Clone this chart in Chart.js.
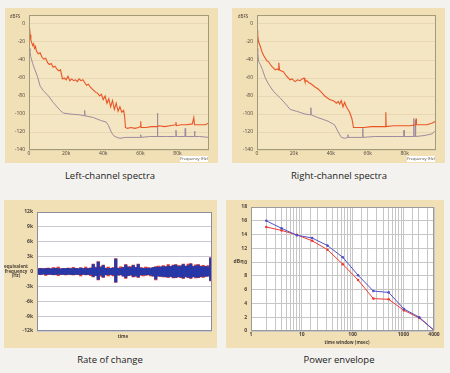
<!DOCTYPE html>
<html>
<head>
<meta charset="utf-8">
<script src="https://cdn.jsdelivr.net/npm/chart.js@4"></script>
<style>
  body {margin: 0; background: #f4f2ef; width: 450px; height: 373px; overflow: hidden; position: relative; font-family: 'Open Sans', sans-serif;}
  canvas {position: absolute;}
  .cap {position: absolute; width: 200px; text-align: center; font-size: 9.5px; color: #222;}
</style>
</head>
<body>
<canvas id="leftSpec" width="213" height="155" style="left:5px;top:8px"></canvas>
<canvas id="rightSpec" width="213" height="155" style="left:232px;top:8px"></canvas>
<canvas id="rate" width="213" height="148" style="left:4px;top:200px"></canvas>
<canvas id="envelope" width="218" height="148" style="left:226px;top:200px"></canvas>
<div class="cap" style="left:10px;top:169px">Left-channel spectra</div>
<div class="cap" style="left:239px;top:169px">Right-channel spectra</div>
<div class="cap" style="left:10px;top:353px">Rate of change</div>
<div class="cap" style="left:239px;top:353px">Power envelope</div>
<script>
// spectra, kHz / dBFS
const specTicksX = [0, 20, 40, 60, 80]
const specTicksY = [0, -20, -40, -60, -80, -100, -120, -140]

const leftHotKHz = [0, 0.3, 0.6, 1, 1.5, 2, 2.5, 3, 3.5, 4,
  5, 6, 7, 8, 9, 10, 11, 12, 13, 14,
  15, 16, 17, 17.5, 18, 19, 20, 21, 22, 23,
  24, 25, 26, 27, 28, 29, 30, 31, 32, 33,
  34, 35, 36, 37, 38, 39, 40, 41, 42, 43,
  44, 45, 46, 47, 48, 49, 50, 51, 51.5, 52,
  53, 55, 57, 59, 60, 60.2, 60.4, 63, 66, 69,
  70, 73, 76, 79, 79.2, 79.4, 82, 85, 88, 88.8,
  89.2, 92, 95, 97]
const leftHotDb = [-6, -4, -12, -18, -21, -24, -22, -27, -25, -30,
  -33, -32, -37, -39, -38, -43, -45, -44, -48, -47,
  -50, -52, -51, -56, -61, -60, -62, -58, -63, -61,
  -63, -62, -64, -61, -63, -62, -65, -68, -67, -70,
  -72, -74, -76, -77, -80, -78, -84, -80, -88, -83,
  -92, -85, -95, -88, -97, -92, -98, -96, -102, -115,
  -116, -115, -116, -115, -114, -108, -115, -115, -114, -114,
  -113, -114, -113, -112, -109, -113, -112, -112, -111, -104,
  -112, -112, -112, -110]
const leftGreyKHz = [0, 0.5, 0.9, 2, 3.2, 4.5, 6, 7.7, 10.5, 13,
  16.8, 18.5, 22, 27.5, 29.8, 30, 30.2, 34.8, 38.4, 41.6,
  42.9, 44.3, 45.6, 47.4, 49, 52, 56, 60, 60.2, 60.4,
  65, 69, 69.2, 69.4, 74, 79, 79.2, 79.4, 84, 84.2,
  84.4, 89, 89.2, 89.4, 92, 97]
const leftGreyDb = [-27, -30, -36, -44, -51, -58, -69, -74, -80, -87,
  -96, -99, -100, -101, -102, -96, -102, -104, -107, -109,
  -113, -120, -124, -126, -127, -126, -126, -126, -123, -126,
  -125, -125, -99, -125, -125, -125, -118, -125, -125, -116,
  -125, -125, -119, -125, -125, -126]

const rightHotKHz = [0, 0.4, 0.9, 1.8, 2.7, 3.6, 4.5, 5.4, 6.3, 7.2,
  8, 9, 9.9, 11, 11.6, 11.8, 12.2, 13, 14.3, 15,
  16, 17, 17.9, 19, 20.6, 22, 23.3, 24.5, 25.5, 26,
  27, 28, 29.6, 31.4, 33, 34, 35.5, 36.7, 38, 39.4,
  41, 42, 43, 44, 44.8, 45.7, 46.6, 47.5, 48.4, 49.3,
  50.2, 51.4, 52.3, 55, 58, 62, 66, 69.6, 69.8, 70,
  74, 79.7, 83, 86, 86.2, 86.4, 90, 92, 95, 96.8]
const rightHotDb = [-7, -13, -20, -25, -31, -35, -38, -41, -42, -45,
  -47, -49, -51, -50, -51, -43, -51, -52, -53, -55,
  -58, -60, -62, -61, -64, -62, -63, -61, -60, -64,
  -63, -65, -67, -70, -72, -74, -77, -80, -82, -84,
  -85, -86, -88, -86, -89, -85, -92, -87, -92, -95,
  -98, -105, -115, -115, -115, -114, -114, -114, -98, -114,
  -113, -113, -113, -112, -105, -112, -112, -112, -110, -108]
const rightGreyKHz = [0, 0.4, 0.9, 1.8, 3, 4.5, 6.3, 9, 12.5, 16,
  18, 21.5, 26, 29, 29.2, 29.4, 33, 38.5, 42, 44,
  45.7, 47.5, 49.2, 49.3, 49.4, 54.7, 57.2, 57.3, 57.4, 63.6,
  76, 79.6, 79.7, 79.8, 84.9, 85, 85.1, 85.8, 85.9, 86,
  90.5, 95, 96.2]
const rightGreyDb = [-27, -31, -42, -45, -51, -60, -67, -75, -82, -90,
  -95, -97, -100, -101, -93, -101, -104, -108, -112, -120,
  -126, -127, -126, -123, -126, -126, -126, -116, -126, -125,
  -125, -125, -118, -125, -125, -105, -125, -125, -107, -125,
  -124, -122, -119]

// rate of change, Hz, per time bin
const rateTicksY = [12000, 9000, 6000, 3000, 0, -3000, -6000, -9000, -12000]
const blueHi = [550, 600, 520, 580, 620, 540, 600, 650, 560, 520,
  600, 580, 640, 560, 600, 620, 540, 700, 580, 620,
  600, 680, 1400, 700, 1900, 800, 1200, 650, 600, 620,
  700, 2500, 650, 600, 800, 1300, 900, 750, 1200, 800,
  1400, 700, 650, 600, 700, 650, 800, 900, 850, 900,
  1000, 950, 1100, 1000, 1200, 1300, 1000, 1100, 1400, 1050,
  1200, 1500, 1000, 1100, 1300, 1000, 950, 1000, 900, 2700]
const blueLo = [-550, -600, -500, -620, -580, -560, -640, -600, -540, -600,
  -580, -620, -560, -600, -650, -580, -600, -620, -560, -640,
  -600, -580, -1000, -800, -1600, -700, -1100, -650, -600, -650,
  -700, -2100, -700, -650, -900, -1200, -800, -700, -1000, -800,
  -1100, -700, -650, -700, -650, -700, -900, -1500, -900, -950,
  -1000, -1050, -1100, -1000, -1150, -1200, -1050, -1100, -1300, -1000,
  -1150, -1300, -1050, -1100, -1200, -1000, -1000, -950, -900, -1800]
const redHi = [600, 650, 600, 620, 700, 560, 800, 680, 900, 560,
  640, 620, 700, 600, 850, 640, 600, 760, 620, 900,
  650, 720, 1500, 900, 2000, 1000, 1300, 700, 900, 650,
  800, 2600, 700, 950, 850, 1400, 950, 1000, 1300, 850,
  1500, 800, 700, 900, 760, 700, 850, 950, 1100, 950,
  1200, 1000, 1400, 1050, 1300, 1400, 1200, 1150, 1500, 1100,
  1500, 1600, 1100, 1350, 1400, 1100, 1250, 1050, 1200, 2800]
const redLo = [-600, -650, -560, -800, -600, -620, -680, -650, -850, -640,
  -620, -700, -600, -650, -700, -620, -650, -900, -600, -680,
  -650, -850, -1100, -850, -1700, -950, -1200, -700, -900, -680,
  -900, -2200, -750, -700, -950, -1400, -850, -750, -1100, -1000,
  -1200, -750, -900, -750, -700, -900, -950, -1700, -950, -1000,
  -1100, -1100, -1200, -1050, -1300, -1250, -1100, -1250, -1400, -1100,
  -1250, -1400, -1100, -1300, -1250, -1100, -1200, -1000, -950, -1900]

// power envelope, msec / dBr
const envMsec = [2, 4, 8, 16, 32, 64, 128, 256, 512, 1024, 2048, 4000]
const envBlue = [16.0, 14.9, 13.9, 13.5, 12.4, 10.7, 8.1, 5.8, 5.6, 3.2, 2.0, 0.1]
const envRed = [15.1, 14.6, 13.95, 13.1, 11.8, 9.7, 7.4, 4.7, 4.6, 3.0, 1.9, 0.1]
const envTickLabels = [1, 10, 100, 1000, 4000]

Chart.defaults.font.family = 'Open Sans'
Chart.defaults.font.size = 5
Chart.defaults.color = '#4a4238'
Chart.defaults.animation = false
Chart.defaults.plugins.legend.display = false
Chart.defaults.plugins.tooltip.enabled = false

const panel = {
  id: 'panel',
  beforeDraw(chart, args, opts) {
    const {ctx, chartArea: a} = chart
    ctx.save()
    ctx.fillStyle = opts.bg
    ctx.fillRect(0, 0, chart.width, chart.height)
    ctx.fillStyle = opts.plot
    ctx.fillRect(a.left, a.top, a.right - a.left, a.bottom - a.top)
    ctx.restore()
  },
  afterDraw(chart, args, opts) {
    const {ctx, chartArea: a} = chart
    ctx.save()
    ctx.strokeStyle = opts.frame
    ctx.lineWidth = 1
    ctx.strokeRect(a.left + 0.5, a.top + 0.5, a.right - a.left - 1, a.bottom - a.top - 1)
    ctx.textAlign = 'center'
    ctx.textBaseline = 'middle'
    ctx.fillStyle = '#4a4238'
    if (opts.xLabels) {
      // tick labels placed through the x scale itself
      ctx.font = 'bold 5px Open Sans'
      for (const v of opts.xLabels) {
        ctx.fillText(String(v), chart.scales.x.getPixelForValue(v), a.bottom + 4)
      }
    }
    for (const n of opts.notes || []) {
      ctx.font = (n.bold ? 'bold ' : '') + (n.size || 5) + 'px Open Sans'
      if (n.box) {
        ctx.fillStyle = '#ffffff'
        ctx.fillRect(n.box[0], n.box[1], n.box[2], n.box[3])
      }
      ctx.fillStyle = n.color || '#4a4238'
      ctx.fillText(n.text, n.x, n.y)
    }
    ctx.restore()
  }
}
Chart.register(panel)

const fixW = w => s => { s.width = w }
const fixH = h => s => { s.height = h }
const pts = (xs, ys) => xs.map((x, i) => ({x: x, y: ys[i]}))

function spectrum(el, hotX, hotY, greyX, greyY, yw, notes) {
  new Chart(el, {
    type: 'line',
    data: {
      datasets: [
        {data: pts(hotX, hotY), borderColor: '#ea5526', borderWidth: 1.1},
        {data: pts(greyX, greyY), borderColor: '#9d8c9e', borderWidth: 1},
      ]
    },
    options: {
      responsive: false,
      layout: {padding: {left: 0, top: 5, right: 9, bottom: 0}},
      elements: {point: {radius: 0}, line: {tension: 0}},
      scales: {
        x: {
          type: 'linear', min: 0, max: 97,
          afterFit: fixH(13),
          afterBuildTicks: s => { s.ticks = specTicksX.map(v => ({value: v})) },
          ticks: {padding: 1, maxRotation: 0, callback: v => v === 0 ? '0' : v + 'k'},
          grid: {display: false, drawTicks: false},
          border: {display: false},
        },
        y: {
          min: -140, max: 10,
          afterFit: fixW(yw),
          afterBuildTicks: s => { s.ticks = specTicksY.map(v => ({value: v})) },
          ticks: {padding: 4},
          grid: {color: 'rgba(150,125,80,0.13)', drawTicks: false},
          border: {display: false},
        }
      },
      plugins: {panel: {bg: '#f1dfb6', plot: '#f4e5c3', frame: '#a39a7c', notes: notes}}
    }
  })
}

spectrum(document.getElementById('leftSpec'), leftHotKHz, leftHotDb, leftGreyKHz, leftGreyDb, 24, [
  {text: 'dBFS', x: 10, y: 9, size: 4.5},
  {text: 'Frequency (Hz)', x: 189, y: 151, size: 4, box: [175, 148, 28, 6]},
])
spectrum(document.getElementById('rightSpec'), rightHotKHz, rightHotDb, rightGreyKHz, rightGreyDb, 25, [
  {text: 'dBFS', x: 11, y: 9, size: 4.5},
  {text: 'Frequency (Hz)', x: 189, y: 151, size: 4, box: [175, 148, 28, 6]},
])

new Chart(document.getElementById('rate'), {
  type: 'bar',
  data: {
    labels: blueHi.map((v, i) => i),
    datasets: [
      {data: blueHi.map((h, i) => [blueLo[i], h]), backgroundColor: '#2638a8', grouped: false},
      {data: redHi.map((h, i) => [redLo[i], h]), backgroundColor: '#e23a2e', grouped: false},
    ]
  },
  options: {
    responsive: false,
    layout: {padding: {left: 0, top: 12, right: 5, bottom: 0}},
    datasets: {bar: {barPercentage: 1, categoryPercentage: 1, borderWidth: 0}},
    scales: {
      x: {
        afterFit: fixH(17),
        ticks: {display: false},
        grid: {display: false, drawTicks: false},
        border: {display: false},
      },
      y: {
        min: -12000, max: 12000,
        afterFit: fixW(33),
        afterBuildTicks: s => { s.ticks = rateTicksY.map(v => ({value: v})) },
        ticks: {padding: 4, font: {weight: 'bold'}, callback: v => v === 0 ? '0' : (v / 1000) + 'k'},
        grid: {color: '#c9c9d2', drawTicks: false},
        border: {display: false},
      }
    },
    plugins: {panel: {bg: '#f1dfb6', plot: '#ffffff', frame: '#8c8c9c', notes: [
      {text: 'equivalent', x: 12, y: 67, size: 4.5, bold: true},
      {text: 'frequency', x: 12, y: 71.5, size: 4.5, bold: true},
      {text: '(Hz)', x: 12, y: 76, size: 4.5, bold: true},
      {text: 'time', x: 119, y: 137, size: 4.5, bold: true},
    ]}}
  }
})

new Chart(document.getElementById('envelope'), {
  type: 'line',
  data: {
    datasets: [
      {data: pts(envMsec, envBlue), borderColor: '#5050c8', backgroundColor: '#5050c8'},
      {data: pts(envMsec, envRed), borderColor: '#ee3a32', backgroundColor: '#ee3a32'},
    ]
  },
  options: {
    responsive: false,
    layout: {padding: {left: 0, top: 5, right: 10, bottom: 0}},
    elements: {point: {radius: 1.3, borderWidth: 0}, line: {tension: 0, borderWidth: 1}},
    scales: {
      x: {
        type: 'logarithmic', min: 1, max: 4000,
        afterFit: fixH(17),
        ticks: {display: false, autoSkip: false},
        grid: {color: '#c6c6c6', drawTicks: false},
        border: {display: false},
      },
      y: {
        min: 0, max: 18,
        afterFit: fixW(25),
        ticks: {stepSize: 2, padding: 4, font: {weight: 'bold'}},
        grid: {color: '#c6c6c6', drawTicks: false},
        border: {display: false},
      }
    },
    plugins: {panel: {bg: '#f1dfb6', plot: '#ffffff', frame: '#9a9a9a', xLabels: envTickLabels, notes: [
      {text: 'dBr', x: 12, y: 62, size: 5, bold: true},
      {text: 'time window (msec)', x: 121, y: 143, size: 4.5, bold: true},
    ]}}
  }
})
</script>
</body>
</html>
